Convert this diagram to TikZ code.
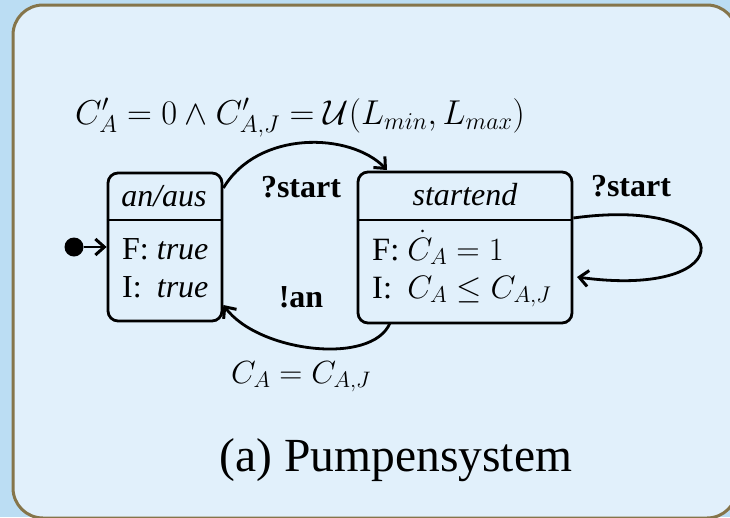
\RequirePackage{fix-cm}
\documentclass[tikz,border=0pt]{standalone}
\usepackage{fontspec}
\setmainfont{Liberation Serif}
\usetikzlibrary{arrows.meta,calc}
\definecolor{outerbg}{HTML}{BBDDF3}
\definecolor{panelbg}{HTML}{E1F0FB}
\definecolor{panelline}{HTML}{85754A}
\tikzset{
  statebox/.style={draw=black, line width=2.8pt, rounded corners=10pt, inner sep=0pt},
  conn/.style={line width=2.8pt, -{Straight Barb[length=9pt,width=16pt,line width=3pt]}},
  txt/.style={inner sep=0pt, anchor=base, font=\fontsize{32}{38}\selectfont},
  lbl/.style={txt, font=\fontsize{32}{38}\selectfont\bfseries},
}
\begin{document}
\begin{tikzpicture}[x=1pt,y=-1pt]
\useasboundingbox (0,0) rectangle (730,517);
\clip (0,0) rectangle (730,517);
\fill[outerbg] (0,0) rectangle (730,517);
\draw[panelline, fill=panelbg, line width=3pt, rounded corners=30pt] (13,5) rectangle (737,518);

% state an/aus
\node[statebox, minimum width=114pt, minimum height=148pt] (s1) at (165,247) {};
\draw[line width=2.8pt] (s1.west |- {(0,220)}) -- (s1.east |- {(0,220)});
\node[txt] (s1t) at (164,206) {\itshape an/aus};
\node[txt, anchor=base west, align=left] (s1b) at (122,259)
  {\begin{tabular}[t]{@{}l@{\ }l@{}}F: & \textit{true}\\ I: & \textit{true}\end{tabular}};

% state startend
\node[statebox, minimum width=214pt, minimum height=151pt] (s2) at (465,247.5) {};
\draw[line width=2.8pt] (s2.west |- {(0,220)}) -- (s2.east |- {(0,220)});
\node[txt] (s2t) at (465,205) {\itshape startend};
\node[txt, anchor=base west, align=left, font=\fontsize{32.5}{38}\selectfont] (s2b) at (372,260)
  {\begin{tabular}[t]{@{}l@{\ }l@{}}F: & $\dot C_A = 1$\\ I: & $C_A \le C_{A,J}$\end{tabular}};

% initial state
\node[circle, fill=black, inner sep=0pt, minimum size=19pt] (init) at (74,247) {};
\draw[conn] (init) -- (s1.west);

% transitions
\coordinate (t1a) at (s1.east |- {(0,188)});
\coordinate (t1b) at (387,170);
\draw[conn] (t1a) .. controls (258,130) and (350,132) .. (t1b);

\coordinate (t2a) at (390,323);
\coordinate (t2b) at (s1.east |- {(0,305)});
\draw[conn] (t2a) .. controls (372,366) and (258,352) .. (t2b);

\coordinate (t3a) at (s2.east |- {(0,218)});
\coordinate (t3b) at (577,277);
\draw[conn] (t3a) .. controls (740,195) and (745,300) .. (t3b);

% labels
\node[txt, font=\fontsize{34.5}{40}\selectfont] (l1) at (300,124) {$C'_A = 0 \wedge C'_{A,J} = \mathcal{U}(L_{min}, L_{max})$};
\node[lbl] (l2) at (301,197) {?start};
\node[lbl] (l3) at (301,307) {!an};
\node[txt] (l4) at (301,383) {$C_A = C_{A,J}$};
\node[lbl] (l5) at (631,196) {?start};

% caption
\node[txt, font=\fontsize{47.5}{56}\selectfont] (cap) at (396,471) {(a)\ Pumpensystem};
\end{tikzpicture}
\end{document}
